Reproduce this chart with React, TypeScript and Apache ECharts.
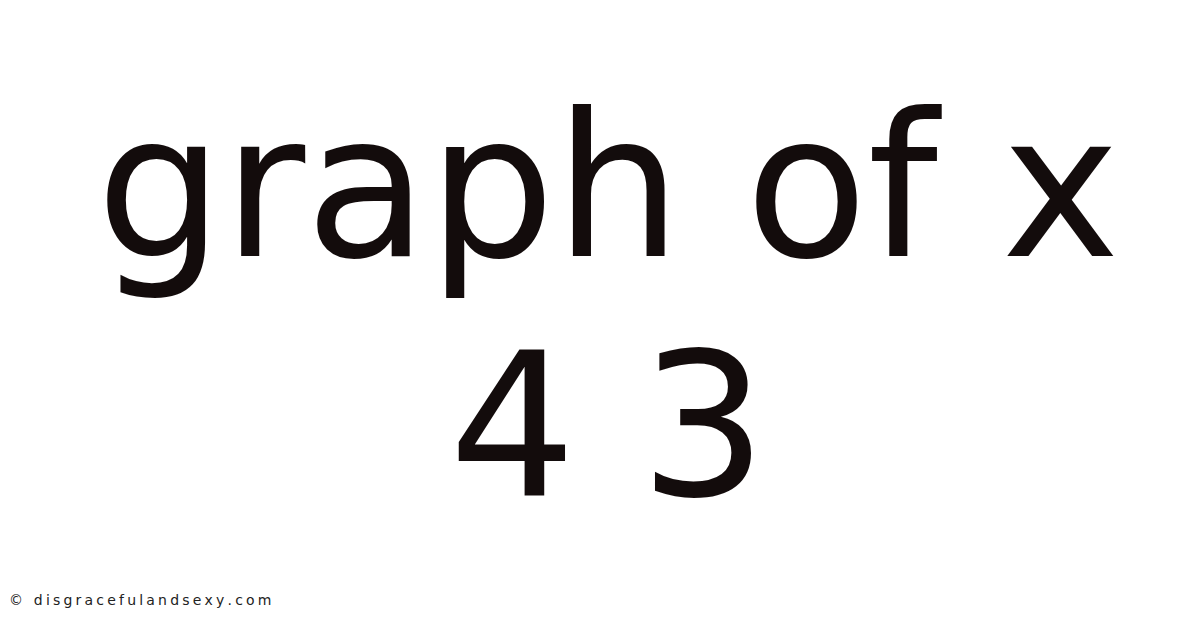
import { useEffect, useRef } from "react";
import * as echarts from "echarts";

// title lines as shown on the card, plus the footer credit
const titleLines = ["graph of x", "4 3"];
const titleTops = [86, 325];
const footerText = "© disgracefulandsexy.com";

const titleFont = '200px "DejaVu Sans"';
const footerFont = '14px "DejaVu Sans"';
const footerSpacing = 3.2;

// zrender has no letter-spacing, so the footer is laid out glyph by glyph
function spacedText(text: string, x: number, y: number, font: string, spacing: number, fill: string) {
  const ctx = document.createElement("canvas").getContext("2d")!;
  ctx.font = font;
  let cursor = x;
  return Array.from(text).map((ch) => {
    const el = {
      type: "text",
      x: cursor,
      y,
      silent: true,
      style: { text: ch, fill, font, align: "left", verticalAlign: "top" },
    };
    cursor += ctx.measureText(ch).width + spacing;
    return el;
  });
}

export default function App() {
  const nodeRef = useRef<HTMLDivElement | null>(null);

  useEffect(() => {
    if (!nodeRef.current) return;
    const chart = echarts.init(nodeRef.current, undefined, { renderer: "svg" });
    chart.setOption({
      animation: false,
      backgroundColor: "#ffffff",
      graphic: [
        ...titleLines.map((line, i) => ({
          type: "text",
          x: 608,
          y: titleTops[i],
          silent: true,
          style: {
            text: line,
            fill: "#130c0c",
            font: titleFont,
            align: "center",
            verticalAlign: "top",
          },
        })),
        ...spacedText(footerText, 9, 593, footerFont, footerSpacing, "#222222"),
      ],
    });
    return () => chart.dispose();
  }, []);

  return (
    <div
      ref={nodeRef}
      style={{ position: "absolute", left: 0, top: 0, width: 1200, height: 628 }}
    />
  );
}
